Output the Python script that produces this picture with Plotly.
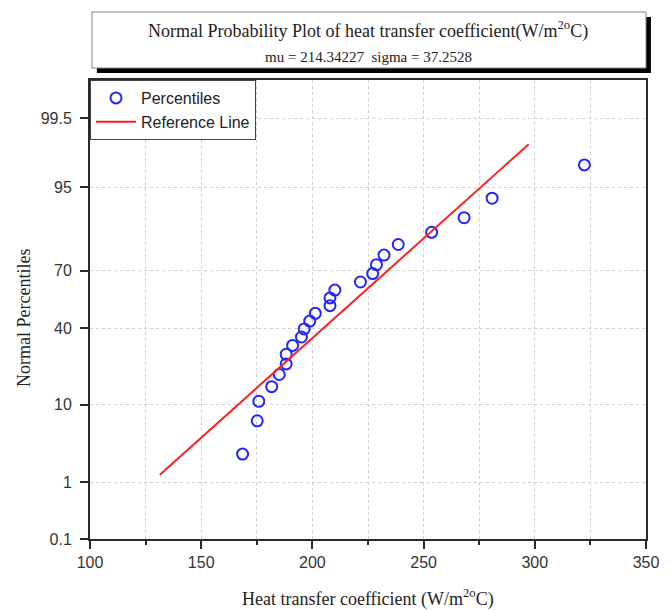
import plotly.graph_objects as go
from statistics import NormalDist

# ---------------- data ----------------
heat_coeff = [168.6, 175.2, 175.9, 181.7, 185.1, 188.2, 188.2, 191.1, 195.1, 196.3,
              198.8, 201.3, 207.9, 207.9, 210.1, 221.6, 227.1, 228.8, 232.2, 238.6,
              253.6, 268.2, 280.8, 322.3]
percentiles = [2.58, 6.70, 10.82, 14.95, 19.07, 23.20, 27.32, 31.44, 35.57, 39.69,
               43.81, 47.94, 52.06, 56.19, 60.31, 64.43, 68.56, 72.68, 76.80, 80.93,
               85.05, 89.18, 93.30, 97.42]
mu = 214.34227
sigma = 37.2528
ref_line_percentiles = [1.3, 98.7]
y_tick_labels = ["0.1", "1", "10", "40", "70", "95", "99.5"]
y_tick_values = [0.1, 1, 10, 40, 70, 95, 99.5]

nd = NormalDist()
def pz(p):
    return nd.inv_cdf(p / 100.0)

z_pts = [pz(p) for p in percentiles]
z_ref = [pz(p) for p in ref_line_percentiles]
x_ref = [mu + sigma * z for z in z_ref]

# ---------------- layout geometry ----------------
W, H = 671, 610
ML, MR, MT, MB = 90, 16, 80, 71
PW, PH = W - ML - MR, H - MT - MB

def px2x(px):
    return (px - ML) / PW

def py2y(py):
    return (H - MB - py) / PH

SANS = "Liberation Sans, Arial, sans-serif"
SERIF = "Liberation Serif, Times New Roman, serif"
AXC = "#2a2a2a"

fig = go.Figure()
fig.add_trace(go.Scatter(
    x=heat_coeff, y=z_pts, mode="markers", name="Percentiles",
    marker=dict(symbol="circle-open", size=11, color="#2424ff", line=dict(width=2, color="#2424ff")),
))
fig.add_trace(go.Scatter(
    x=x_ref, y=z_ref, mode="lines", name="Reference Line",
    line=dict(color="#ff2020", width=2),
))

zlim = pz(0.1)
fig.update_layout(
    width=W, height=H,
    margin=dict(l=ML, r=MR, t=MT, b=MB),
    paper_bgcolor="white", plot_bgcolor="white",
    showlegend=True,
    legend=dict(x=0, y=1, xanchor="left", yanchor="top",
                bgcolor="white", bordercolor="#444", borderwidth=1,
                font=dict(family=SANS, size=16, color="#222"),
                tracegroupgap=0, itemwidth=40),
    xaxis=dict(range=[100, 350], tickvals=[100, 150, 200, 250, 300, 350],
               showline=True, linecolor=AXC, linewidth=2, mirror=True,
               ticks="outside", ticklen=8, tickwidth=2, tickcolor=AXC,
               tickfont=dict(family=SANS, size=16, color="#333"),
               showgrid=False, zeroline=False,
               minor=dict(dtick=25, tick0=100, ticks="outside", ticklen=4, tickwidth=2,
                          tickcolor=AXC, showgrid=True, gridcolor="#d0d0d0",
                          griddash="dot", gridwidth=1)),
    yaxis=dict(range=[zlim, -zlim], tickvals=[pz(v) for v in y_tick_values],
               ticktext=y_tick_labels,
               showline=True, linecolor=AXC, linewidth=2, mirror=True,
               ticks="outside", ticklen=8, tickwidth=2, tickcolor=AXC,
               ticklabelstandoff=5,
               tickfont=dict(family=SANS, size=16, color="#333"),
               showgrid=True, gridcolor="#d0d0d0", griddash="dot", gridwidth=1,
               zeroline=False),
)

# title box with drop shadow
fig.add_shape(type="rect", xref="paper", yref="paper",
              x0=px2x(97), x1=px2x(660), y0=py2y(73), y1=py2y(17),
              fillcolor="black", line=dict(width=0))
fig.add_shape(type="rect", xref="paper", yref="paper",
              x0=px2x(92), x1=px2x(655), y0=py2y(68), y1=py2y(12),
              fillcolor="white", line=dict(color="#888", width=1))

fig.add_annotation(xref="paper", yref="paper", x=px2x(373), y=py2y(30),
                   text="Normal Probability Plot of heat transfer coefficient(W/m<sup>2o</sup>C)",
                   showarrow=False, xanchor="center", yanchor="middle",
                   font=dict(family=SERIF, size=18, color="#222"))
fig.add_annotation(xref="paper", yref="paper", x=px2x(373), y=py2y(57),
                   text="mu = 214.34227&nbsp;&nbsp;sigma = 37.2528",
                   showarrow=False, xanchor="center", yanchor="middle",
                   font=dict(family=SERIF, size=15, color="#222"))
fig.add_annotation(xref="paper", yref="paper", x=px2x(373), y=py2y(598),
                   text="Heat transfer coefficient (W/m<sup>2o</sup>C)",
                   showarrow=False, xanchor="center", yanchor="middle",
                   font=dict(family=SERIF, size=18, color="#222"))
fig.add_annotation(xref="paper", yref="paper", x=px2x(23), y=py2y(318),
                   text="Normal Percentiles", textangle=-90,
                   showarrow=False, xanchor="center", yanchor="middle",
                   font=dict(family=SERIF, size=18, color="#222"))

fig.write_html("out.html",
               config={"displayModeBar": False},
               post_script="document.body.style.margin='0';document.body.style.overflow='hidden';")
